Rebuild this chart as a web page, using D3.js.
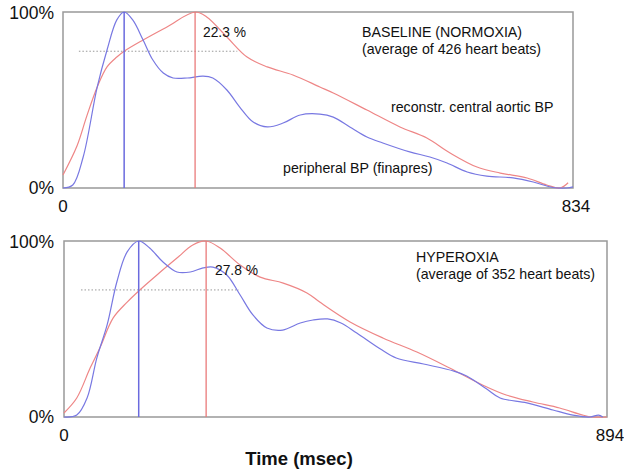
<!DOCTYPE html>
<html>
<head>
<meta charset="utf-8">
<script src="https://cdn.jsdelivr.net/npm/d3@7"></script>
<style>
  html, body { margin: 0; padding: 0; background: #fff; }
  svg { display: block; font-family: "Liberation Sans", Arial, sans-serif; }
</style>
</head>
<body>
<svg id="viz" width="624" height="471"></svg>
<script>
(function () {
  'use strict';

  // time (msec), pressure (% of pulse range)
  const baselinePeripheral = [
    [0, 0], [16, 1.7], [33, 17.6], [56, 57.4], [72, 78.4], [88, 95.5], [100, 100],
    [114, 95.5], [131, 84.1], [147, 72.7], [164, 65.3], [180, 62.5], [203, 62.5],
    [229, 63.6], [245, 62.5], [268, 55.7], [289, 46], [311, 37.5], [334, 34.7],
    [360, 36.9], [388, 41.5], [420, 42], [442, 40.3], [469, 34.7], [497, 29],
    [523, 25.6], [567, 20.5], [600, 17.6], [628, 14.2], [661, 9.1], [693, 6.8],
    [736, 5.7], [769, 3.4], [801, 0.3], [824, 0], [834, 0.6]
  ];
  const baselineAortic = [
    [0, 7.4], [23, 24], [39, 41], [56, 57.4], [72, 68.8], [88, 74.4], [100, 77.7],
    [131, 84.1], [170, 91.5], [216, 100], [235, 97.2], [268, 85.8], [301, 74.4],
    [334, 68.8], [376, 64.2], [420, 57.4], [442, 54], [497, 44.3], [551, 34.7],
    [595, 28.4], [633, 19.9], [677, 11.9], [715, 8.5], [759, 5.7], [791, 1.7],
    [813, 0], [826, 3]
  ];
  const hyperPeripheral = [
    [0, 0], [21, 1.1], [38, 10.8], [54, 33.5], [71, 52.3], [87, 76.7], [104, 93.8],
    [123, 100], [141, 96], [163, 88.1], [186, 82.4], [208, 82.4], [229, 84.7],
    [245, 85.2], [268, 80.7], [290, 69.3], [311, 58], [334, 50.6], [360, 49.4],
    [389, 53.4], [410, 55.1], [434, 55.7], [456, 53.4], [482, 47.7], [521, 38.6],
    [547, 33.5], [592, 30.1], [642, 26.1], [663, 23.3], [696, 15.9], [718, 10.8],
    [762, 8], [805, 4], [838, 1.1], [866, 0], [880, 1.1], [887, 0]
  ];
  const hyperAortic = [
    [0, 2.3], [21, 10.8], [43, 27.8], [59, 39.2], [81, 56.3], [104, 65.3], [123, 71.6],
    [153, 80.7], [186, 90.3], [212, 97.7], [234, 100], [257, 96], [290, 86.4],
    [323, 79.5], [361, 76.1], [400, 70.5], [421, 65.3], [471, 54], [525, 44.9],
    [581, 36.9], [635, 27.8], [689, 18.2], [728, 12.5], [772, 8.5], [816, 5.1],
    [854, 1.1], [870, 0], [894, 0]
  ];

  const panels = [
    {
      duration: 834, box: { left: 63, right: 573, top: 12, bottom: 188 },
      peripheral: baselinePeripheral, aortic: baselineAortic,
      periPeak: 100, aortPeak: 216, augment: 22.3, dotted: [26, 285],
      titles: ['BASELINE (NORMOXIA)', '(average of 426 heart beats)'],
      titleAt: [362, 37], augAt: [203, 37]
    },
    {
      duration: 894, box: { left: 64, right: 607, top: 241, bottom: 417 },
      peripheral: hyperPeripheral, aortic: hyperAortic,
      periPeak: 123, aortPeak: 234, augment: 27.8, dotted: [28, 288],
      titles: ['HYPEROXIA', '(average of 352 heart beats)'],
      titleAt: [416, 262], augAt: [215, 275]
    }
  ];

  const blue = '#7878e2';
  const red = '#ee8686';
  const labelSize = 14.2;
  const svg = d3.select('#viz');

  panels.forEach((p, idx) => {
    const x = d3.scaleLinear().domain([0, p.duration]).range([p.box.left, p.box.right]);
    const y = d3.scaleLinear().domain([0, 100]).range([p.box.bottom, p.box.top]);
    const g = svg.append('g');

    const line = d3.line()
      .x(d => x(d[0]))
      .y(d => y(d[1]))
      .curve(d3.curveCatmullRom.alpha(0.5));

    // frame
    g.append('rect')
      .attr('x', p.box.left).attr('y', p.box.top)
      .attr('width', p.box.right - p.box.left)
      .attr('height', p.box.bottom - p.box.top)
      .attr('fill', 'none')
      .attr('stroke', '#999')
      .attr('stroke-width', 1.5);

    // dotted reference line at 100 - augmentation
    g.append('line')
      .attr('x1', x(p.dotted[0])).attr('x2', x(p.dotted[1]))
      .attr('y1', y(100 - p.augment)).attr('y2', y(100 - p.augment))
      .attr('stroke', '#999')
      .attr('stroke-width', 1)
      .attr('stroke-dasharray', '1.5,2');

    g.append('path')
      .datum(p.aortic)
      .attr('d', line)
      .attr('fill', 'none')
      .attr('stroke', red)
      .attr('stroke-width', 1.2);

    g.append('path')
      .datum(p.peripheral)
      .attr('d', line)
      .attr('fill', 'none')
      .attr('stroke', blue)
      .attr('stroke-width', 1.2);

    // peak markers
    g.append('line')
      .attr('x1', x(p.periPeak)).attr('x2', x(p.periPeak))
      .attr('y1', y(0)).attr('y2', y(100))
      .attr('stroke', '#6a6ade').attr('stroke-width', 1.5);
    g.append('line')
      .attr('x1', x(p.aortPeak)).attr('x2', x(p.aortPeak))
      .attr('y1', y(0)).attr('y2', y(100))
      .attr('stroke', '#ea7a7a').attr('stroke-width', 1.3);

    // y labels
    g.append('text').attr('x', 54).attr('y', y(100) + 7)
      .attr('text-anchor', 'end').attr('font-size', 17.5).attr('fill', '#111')
      .text('100%');
    g.append('text').attr('x', 54).attr('y', y(0) + 6)
      .attr('text-anchor', 'end').attr('font-size', 17.5).attr('fill', '#111')
      .text('0%');

    // x labels
    g.append('text').attr('x', x(0)).attr('y', p.box.bottom + 24)
      .attr('text-anchor', 'middle').attr('font-size', 17).attr('fill', '#111')
      .text('0');
    g.append('text').attr('x', x(p.duration) + 3).attr('y', p.box.bottom + 24)
      .attr('text-anchor', 'middle').attr('font-size', 17).attr('fill', '#111')
      .text(p.duration);

    g.append('text').attr('x', p.augAt[0]).attr('y', p.augAt[1])
      .attr('font-size', 13.8).attr('fill', '#111')
      .text(p.augment + ' %');

    p.titles.forEach((t, i) => {
      g.append('text').attr('x', p.titleAt[0]).attr('y', p.titleAt[1] + i * 17)
        .attr('font-size', labelSize).attr('fill', '#111')
        .text(t);
    });

    if (idx === 0) {
      g.append('text').attr('x', 391).attr('y', 112)
        .attr('font-size', labelSize).attr('fill', '#111')
        .text('reconstr. central aortic BP');
      g.append('text').attr('x', 283).attr('y', 173)
        .attr('font-size', labelSize).attr('fill', '#111')
        .text('peripheral BP (finapres)');
    }
  });

  svg.append('text')
    .attr('x', 299).attr('y', 465)
    .attr('text-anchor', 'middle')
    .attr('font-size', 18.5).attr('font-weight', 'bold').attr('fill', '#111')
    .text('Time (msec)');
}());
</script>
</body>
</html>
